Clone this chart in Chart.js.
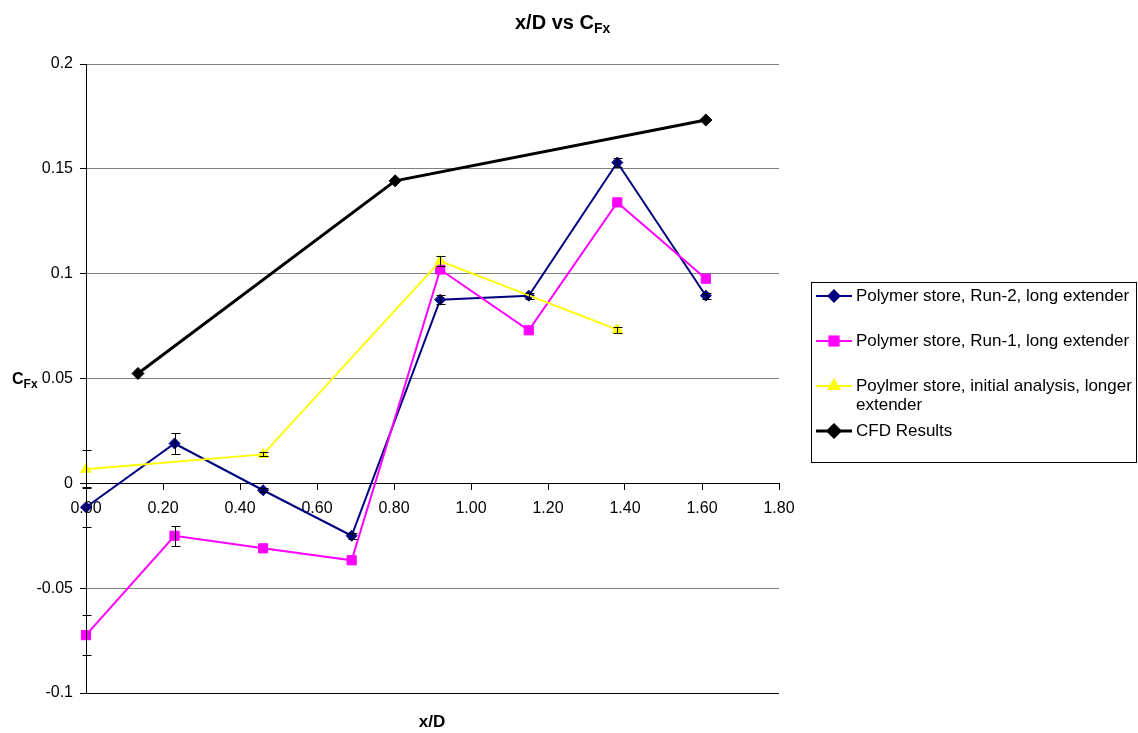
<!DOCTYPE html>
<html>
<head>
<meta charset="utf-8">
<script src="https://cdn.jsdelivr.net/npm/chart.js@4"></script>
<style>
  html, body { margin: 0; padding: 0; background: #fff; }
  #wrap { width: 1138px; height: 733px; }
</style>
</head>
<body>
<div id="wrap"><canvas id="chart_id_cfx" width="1138" height="733"></canvas></div>
<script>
// x/D positions and C_Fx values
const run2_x = [0.0, 0.23, 0.46, 0.69, 0.92, 1.15, 1.38, 1.61];
const run2_y = [-0.0114, 0.019, -0.0033, -0.025, 0.0876, 0.0895, 0.153, 0.0895];
const run2_err = [0.0095, 0.0048, 0.001, 0.0015, 0.002, 0.0015, 0.002, 0.0015];

const run1_x = [0.0, 0.23, 0.46, 0.69, 0.92, 1.15, 1.38, 1.61];
const run1_y = [-0.0724, -0.025, -0.031, -0.0367, 0.102, 0.073, 0.134, 0.0976];
const run1_err = [0.0095, 0.0048, 0, 0, 0, 0, 0, 0];

const init_x = [0.0, 0.46, 0.92, 1.38];
const init_y = [0.0067, 0.0138, 0.106, 0.0733];
const init_err = [0.009, 0.001, 0.0024, 0.0015];

const cfd_x = [0.135, 0.803, 1.61];
const cfd_y = [0.0524, 0.1443, 0.1733];

const series_labels = [
  "Polymer store, Run-2, long extender",
  "Polymer store, Run-1, long extender",
  ["Poylmer store, initial analysis, longer", "extender"],
  "CFD Results"
];

const FONT = "'Liberation Sans', Arial, sans-serif";

function toPoints(xs, ys, errs) {
  let pts = [];
  for (let i = 0; i < xs.length; i++) {
    pts.push({ x: xs[i], y: ys[i], err: errs ? errs[i] : 0 });
  }
  return pts;
}

// error bars, drawn through the chart scales
const errorBars = {
  id: "errorBars",
  afterDatasetsDraw(chart) {
    const ctx = chart.ctx;
    const xs = chart.scales.x, ys = chart.scales.y;
    ctx.save();
    ctx.strokeStyle = "#000";
    ctx.lineWidth = 1;
    chart.data.datasets.forEach((ds) => {
      for (let p of ds.data) {
        if (!p.err) continue;
        const px = Math.round(xs.getPixelForValue(p.x)) + 0.5;
        const top = Math.round(ys.getPixelForValue(p.y + p.err)) + 0.5;
        const bot = Math.round(ys.getPixelForValue(p.y - p.err)) + 0.5;
        ctx.beginPath();
        ctx.moveTo(px, top); ctx.lineTo(px, bot);
        ctx.moveTo(px - 4, top); ctx.lineTo(px + 5, top);
        ctx.moveTo(px - 4, bot); ctx.lineTo(px + 5, bot);
        ctx.stroke();
      }
    });
    ctx.restore();
  }
};

// titles with subscripts + boxed legend on the right
const decorations = {
  id: "decorations",
  afterDraw(chart) {
    const ctx = chart.ctx;
    ctx.save();
    ctx.fillStyle = "#000";
    ctx.textBaseline = "alphabetic";
    ctx.textAlign = "left";

    // chart title
    ctx.font = "bold 20px " + FONT;
    let t = "x/D vs C";
    let w = ctx.measureText(t).width;
    let x0 = 515;
    ctx.fillText(t, x0, 29);
    ctx.font = "bold 14px " + FONT;
    ctx.fillText("Fx", x0 + w, 33);

    // y title
    ctx.font = "bold 16px " + FONT;
    ctx.fillText("C", 12, 384);
    let wc = ctx.measureText("C").width;
    ctx.font = "bold 12px " + FONT;
    ctx.fillText("Fx", 12 + wc, 388);

    // x title
    ctx.font = "bold 17px " + FONT;
    ctx.textAlign = "center";
    ctx.fillText("x/D", 432, 727);

    // legend
    ctx.strokeStyle = "#000";
    ctx.lineWidth = 1;
    ctx.strokeRect(811.5, 282.5, 325, 180);
    const rows = [296, 341, 386, 431];
    ctx.font = "17px " + FONT;
    ctx.textAlign = "left";
    ctx.textBaseline = "middle";
    chart.data.datasets.forEach((ds, i) => {
      const y = rows[i];
      ctx.strokeStyle = ds.borderColor;
      ctx.lineWidth = ds.borderWidth;
      ctx.beginPath();
      ctx.moveTo(816, y); ctx.lineTo(852, y);
      ctx.stroke();
      Chart.helpers.drawPoint(ctx, {
        pointStyle: ds.pointStyle, radius: ds.pointRadius, rotation: 0, borderWidth: 1
      }, 834, y);
      ctx.fillStyle = ds.pointBackgroundColor;
      ctx.strokeStyle = ds.pointBorderColor;
      ctx.lineWidth = 1;
      ctx.fill();
      ctx.stroke();
      ctx.fillStyle = "#000";
      const lbl = series_labels[i];
      if (Array.isArray(lbl)) {
        lbl.forEach((s, k) => ctx.fillText(s, 856, y + k * 19));
      } else {
        ctx.fillText(lbl, 856, y);
      }
    });
    ctx.restore();
  }
};

const config = {
  type: "line",
  data: {
    datasets: [
      {
        label: "run2",
        data: toPoints(run2_x, run2_y, run2_err),
        borderColor: "#000080",
        backgroundColor: "#000080",
        pointBackgroundColor: "#000080",
        pointBorderColor: "#000080",
        borderWidth: 2,
        pointBorderWidth: 1,
        pointStyle: "rectRot",
        pointRadius: 5.5,
        clip: false,
        order: 3
      },
      {
        label: "run1",
        data: toPoints(run1_x, run1_y, run1_err),
        borderColor: "#FF00FF",
        backgroundColor: "#FF00FF",
        pointBackgroundColor: "#FF00FF",
        pointBorderColor: "#FF00FF",
        borderWidth: 2,
        pointBorderWidth: 1,
        pointStyle: "rect",
        pointRadius: 6.5,
        clip: false,
        order: 2
      },
      {
        label: "initial",
        data: toPoints(init_x, init_y, init_err),
        borderColor: "#FFFF00",
        backgroundColor: "#FFFF00",
        pointBackgroundColor: "#FFFF00",
        pointBorderColor: "#FFFF00",
        borderWidth: 2,
        pointBorderWidth: 1,
        pointStyle: "triangle",
        pointRadius: 6,
        clip: false,
        order: 1
      },
      {
        label: "cfd",
        data: toPoints(cfd_x, cfd_y, null),
        borderColor: "#000000",
        backgroundColor: "#000000",
        pointBackgroundColor: "#000000",
        pointBorderColor: "#000000",
        borderWidth: 3,
        pointBorderWidth: 1,
        pointStyle: "rectRot",
        pointRadius: 6,
        clip: false,
        order: 0
      }
    ]
  },
  options: {
    responsive: false,
    animation: false,
    layout: { padding: { left: 0, right: 359, top: 64, bottom: 40 } },
    plugins: { legend: { display: false }, tooltip: { enabled: false } },
    elements: { line: { tension: 0 }, point: { hoverRadius: 5 } },
    scales: {
      x: {
        type: "linear",
        position: { y: 0 },
        min: 0, max: 1.8,
        ticks: {
          stepSize: 0.2,
          color: "#000",
          font: { family: FONT, size: 16 },
          padding: 10,
          maxRotation: 0,
          callback: (v) => v.toFixed(2)
        },
        grid: { display: true, drawOnChartArea: false, drawTicks: true, tickLength: 6, tickColor: "#000" },
        border: { display: true, color: "#000", width: 1 }
      },
      y: {
        type: "linear",
        position: "left",
        min: -0.1, max: 0.2,
        afterFit: (scale) => { scale.width = 86; },
        ticks: {
          stepSize: 0.05,
          color: "#000",
          font: { family: FONT, size: 16 },
          padding: 7,
          callback: (v) => String(Math.round(v * 100) / 100)
        },
        grid: {
          color: (c) => (c.tick && Math.abs(c.tick.value + 0.1) < 1e-9) ? "#000" : "#808080",
          lineWidth: 1,
          tickLength: 6,
          tickColor: "#000"
        },
        border: { display: true, color: "#000", width: 1 }
      }
    }
  },
  plugins: [errorBars, decorations]
};

const myChart = new Chart(document.getElementById("chart_id_cfx"), config);
</script>
</body>
</html>
